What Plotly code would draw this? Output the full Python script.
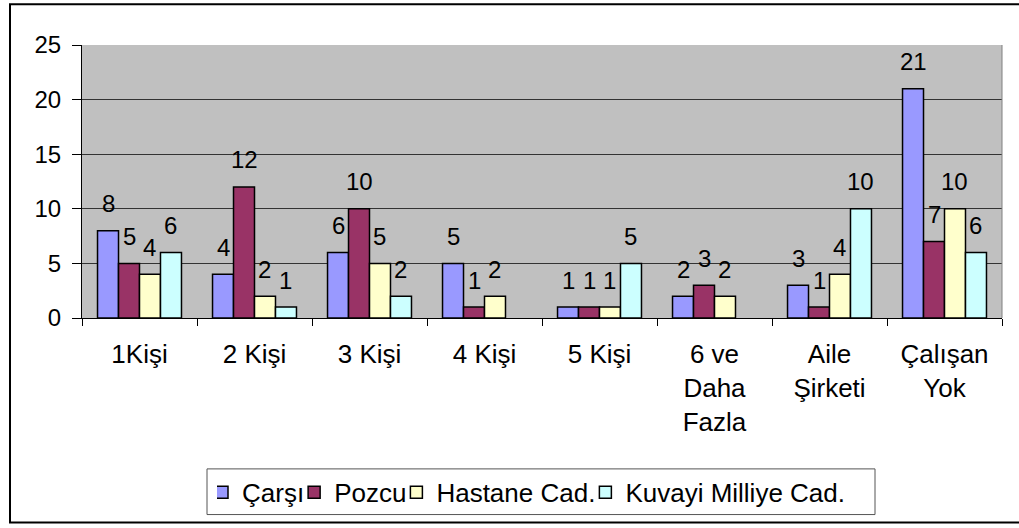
import plotly.graph_objects as go

categories = ["1Kişi", "2 Kişi", "3 Kişi", "4 Kişi", "5 Kişi",
              "6 ve<br>Daha<br>Fazla", "Aile<br>Şirketi", "Çalışan<br>Yok"]
series_names = ["Çarşı", "Pozcu", "Hastane Cad.", "Kuvayi Milliye Cad."]
carsi = [8, 4, 6, 5, 1, 2, 3, 21]
pozcu = [5, 12, 10, 1, 1, 3, 1, 7]
hastane = [4, 2, 5, 2, 1, 2, 4, 10]
kuvayi = [6, 1, 2, 0, 5, 0, 10, 6]
y_ticks = [0, 5, 10, 15, 20, 25]

colors = ["#9999FF", "#993366", "#FFFFCC", "#CCFFFF"]
all_series = [carsi, pozcu, hastane, kuvayi]

FONT = "Liberation Sans, Arial, sans-serif"
BIG = 24

# plot area geometry (pixels in the page)
PL, PR, PT, PB = 82, 1002, 45, 320
PW, PH = PR - PL, PB - PT


def px(x):
    return (x - PL) / PW


def py(y):
    return (PB - y) / PH


fig = go.Figure()
for name, vals, col in zip(series_names, all_series, colors):
    fig.add_trace(go.Bar(
        x=categories, y=vals, name=name,
        marker=dict(color=col,
                    line=dict(color="black",
                              width=[1.5 if v != 0 else 0 for v in vals])),
    ))

# data labels (Excel-style, above bars), skip zeros
bar_w = (PW / len(categories)) * (1 - 0.27) / 4
for i, vals in enumerate(all_series):
    off = (i - 1.5) * bar_w
    for c, v in zip(categories, vals):
        if v == 0:
            continue
        fig.add_annotation(x=c, y=v, text=str(v), showarrow=False,
                           xshift=off, yshift=27, yanchor="middle",
                           font=dict(family=FONT, size=BIG, color="black"))

# outer frame
fig.add_shape(type="rect", xref="paper", yref="paper",
              x0=px(10), x1=px(1030), y0=py(526), y1=py(4),
              line=dict(color="black", width=2), fillcolor="rgba(0,0,0,0)")
# right plot border (gray)
fig.add_shape(type="line", xref="paper", yref="paper", x0=1, x1=1, y0=0, y1=1,
              line=dict(color="#808080", width=1))
# legend box
fig.add_shape(type="rect", xref="paper", yref="paper",
              x0=px(207), x1=px(875), y0=py(518), y1=py(472),
              line=dict(color="#555555", width=1), fillcolor="white", layer="below")

fig.update_layout(
    width=1019, height=528,
    margin=dict(l=PL, r=1019 - PR, t=PT, b=528 - PB),
    paper_bgcolor="white", plot_bgcolor="#C0C0C0",
    barmode="group", bargap=0.27, bargroupgap=0,
    font=dict(family=FONT, size=20, color="black"),
    showlegend=True,
    legend=dict(orientation="h", x=px(217), y=py(472),
                xanchor="left", yanchor="top",
                bgcolor="rgba(0,0,0,0)", borderwidth=0,
                font=dict(family=FONT, size=26, color="black"),
                itemwidth=30, indentation=-15, tracegroupgap=0),
)
fig.update_xaxes(type="category", tickson="boundaries", ticks="outside", ticklen=7,
                 tickcolor="black", showline=True, linecolor="black", linewidth=1,
                 showgrid=False, tickfont=dict(family=FONT, size=26),
                 ticklabelstandoff=13)
fig.update_yaxes(range=[0, 25], tickvals=y_ticks, ticks="outside", ticklen=9,
                 tickcolor="black", showline=True, linecolor="black", linewidth=1,
                 showgrid=True, gridcolor="#333333", gridwidth=1,
                 zeroline=False, tickfont=dict(family=FONT, size=BIG),
                 ticklabelstandoff=6)

fig.write_html(
    "out.html",
    config={"displayModeBar": False},
    post_script=("document.body.style.margin='0';"
                 "document.body.style.overflow='hidden';"
                 "document.documentElement.style.overflow='hidden';"),
)
